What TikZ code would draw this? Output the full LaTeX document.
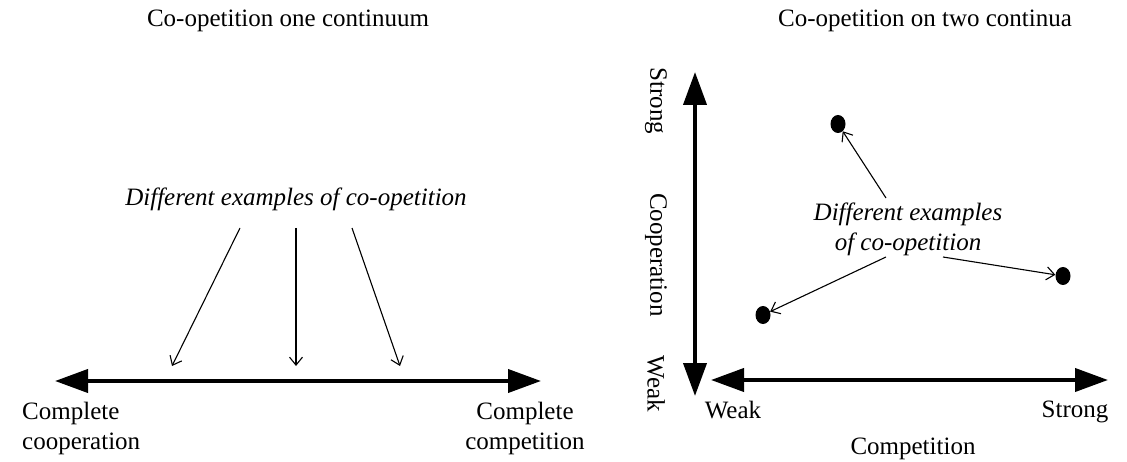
\documentclass[tikz,border=0pt]{standalone}
\usepackage{fontspec}
\setmainfont{Liberation Serif}
\usetikzlibrary{arrows.meta,shapes.geometric}
\begin{document}
\begin{tikzpicture}[x=1pt,y=-1pt,
  txt/.style={inner sep=0pt,font=\fontsize{25}{30}\selectfont},
  ital/.style={txt,font=\fontsize{25}{30}\selectfont\itshape},
  axis/.style={line width=4pt,{Triangle[length=33pt,width=23pt]}-{Triangle[length=33pt,width=23pt]}},
  pointer/.style={line width=1.1pt,-{Straight Barb[length=8pt,width=13pt,line width=1.1pt]}},
  dot/.style={fill=black,ellipse,minimum width=15pt,minimum height=18pt,inner sep=0pt}]
\useasboundingbox (0,0) rectangle (1127,462);

% ---- one continuum ----
\node[txt] (t1) at (288,21) {Co-opetition one continuum};
\node[ital] (ex1) at (296,199) {Different examples of co-opetition};
\coordinate (la) at (55,381);
\coordinate (ra) at (541,381);
\draw[axis] (la) -- (ra);
\node[txt,align=left,anchor=north west] (coop) at (22,402) {Complete\\cooperation};
\node[txt,align=center,anchor=north] (comp) at (525,402) {Complete\\competition};
\coordinate (e1a) at (240,228); \coordinate (e1b) at (172,366);
\coordinate (e2a) at (296,228); \coordinate (e2b) at (296,366);
\coordinate (e3a) at (352,228); \coordinate (e3b) at (400,366);
\draw[pointer] (e1a) -- (e1b);
\draw[pointer] (e2a) -- (e2b);
\draw[pointer] (e3a) -- (e3b);

% ---- two continua ----
\node[txt] (t2) at (925,21) {Co-opetition on two continua};
\coordinate (vt) at (695,72);
\coordinate (vb) at (695,396);
\coordinate (hl) at (711,380);
\coordinate (hr) at (1108,380);
\draw[axis] (vb) -- (vt);
\draw[axis] (hl) -- (hr);
\node[txt,rotate=-90] (vs) at (656,101) {Strong};
\node[txt,rotate=-90] (vc) at (656,255) {Cooperation};
\node[txt,rotate=-90] (vw) at (656,384) {Weak};
\node[txt,anchor=north] (hw) at (733,401) {Weak};
\node[txt,anchor=north] (hs) at (1075,401) {Strong};
\node[txt] (hc) at (913,449) {Competition};
\node[dot] (d1) at (838,124) {};
\node[dot] (d2) at (763,315) {};
\node[dot] (d3) at (1063,276) {};
\node[ital,align=center] (ex2) at (908,229) {Different examples\\of co-opetition};
\coordinate (p1) at (886,198);
\coordinate (p2) at (886,257);
\coordinate (p3) at (943,257);
\draw[pointer] (p1) -- (d1);
\draw[pointer] (p2) -- (d2);
\draw[pointer] (p3) -- (d3);
\end{tikzpicture}
\end{document}
